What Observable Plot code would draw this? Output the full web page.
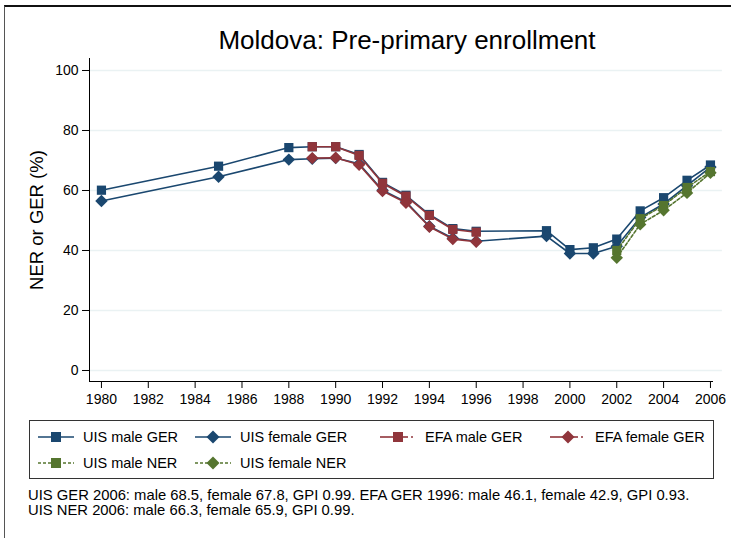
<!DOCTYPE html>
<html>
<head>
<meta charset="utf-8">
<script src="https://cdn.jsdelivr.net/npm/d3@7"></script>
<script src="https://cdn.jsdelivr.net/npm/@observablehq/plot@0.6"></script>
<style>
  html, body { margin: 0; padding: 0; background: #fff; }
  body { font-family: "Liberation Sans", Arial, Helvetica, sans-serif; color: #000; }
  #wrap { position: relative; width: 731px; height: 538px; overflow: hidden; background: #fff; }
  #frame { position: absolute; left: 4px; top: 5px; right: -2px; bottom: -2px; border-top: 2px solid #111; border-left: 1px solid #555; }
  #title { position: absolute; top: 25px; left: 407px; transform: translateX(-50%); white-space: nowrap; font-size: 26px; }
  #ylabel { position: absolute; left: 37px; top: 220px; transform: translate(-50%, -50%) rotate(-90deg); white-space: nowrap; font-size: 18.5px; }
  #chart { position: absolute; left: 0; top: 0; }
  #legend { position: absolute; left: 29px; top: 420px; width: 685px; height: 59px; border: 1px solid #333; box-sizing: border-box; font-size: 14.5px; }
  .item { position: absolute; display: flex; align-items: center; white-space: nowrap; }
  .item svg { margin-right: 9px; }
  #notes { position: absolute; left: 28px; top: 488px; font-size: 14.8px; line-height: 15px; white-space: nowrap; }
</style>
</head>
<body>
<div id="wrap">
  <div id="frame"></div>
  <div id="chart"></div>
  <div id="title">Moldova: Pre-primary enrollment</div>
  <div id="ylabel">NER or GER (%)</div>
  <div id="legend"></div>
  <div id="notes"></div>
</div>
<script>
// ---- data ----
const uisYears = [1980, 1985, 1988, 1989, 1990, 1991, 1992, 1993, 1994, 1995, 1996, 1999, 2000, 2001, 2002, 2003, 2004, 2005, 2006];
const uisMaleGER = [60.1, 68.1, 74.3, 74.6, 74.6, 72.0, 62.7, 58.4, 52.0, 47.3, 46.4, 46.6, 40.3, 40.9, 43.8, 53.2, 57.6, 63.4, 68.5];
const uisFemaleGER = [56.5, 64.6, 70.3, 70.6, 70.8, 68.9, 60.1, 56.2, 48.1, 44.1, 43.1, 44.8, 39.0, 39.0, 41.4, 51.0, 55.5, 61.6, 67.8];
const efaYears = [1989, 1990, 1991, 1992, 1993, 1994, 1995, 1996];
const efaMaleGER = [74.6, 74.6, 71.7, 62.4, 58.1, 51.7, 47.0, 46.1];
const efaFemaleGER = [70.8, 70.9, 68.6, 59.8, 55.9, 47.9, 43.8, 42.9];
const nerYears = [2002, 2003, 2004, 2005, 2006];
const uisMaleNER = [40.0, 50.6, 55.0, 61.0, 66.3];
const uisFemaleNER = [37.6, 48.7, 53.4, 59.2, 65.9];

const xTicks = d3.range(1980, 2007, 2);
const yTicks = [0, 20, 40, 60, 80, 100];
const legendLabels = ["UIS male GER", "UIS female GER", "EFA male GER", "EFA female GER", "UIS male NER", "UIS female NER"];
const notes = [
  "UIS GER 2006: male 68.5, female 67.8, GPI 0.99. EFA GER 1996: male 46.1, female 42.9, GPI 0.93.",
  "UIS NER 2006: male 66.3, female 65.9, GPI 0.99."
];

// ---- styles ----
const NAVY = "#1a476f", MAROON = "#90353b", GREEN = "#55752f";
const series = [
  {label: legendLabels[0], years: uisYears, values: uisMaleGER, color: NAVY, symbol: "square", dash: null},
  {label: legendLabels[1], years: uisYears, values: uisFemaleGER, color: NAVY, symbol: "diamond2", dash: null},
  {label: legendLabels[2], years: efaYears, values: efaMaleGER, color: MAROON, symbol: "square", dash: null},
  {label: legendLabels[3], years: efaYears, values: efaFemaleGER, color: MAROON, symbol: "diamond2", dash: null},
  {label: legendLabels[4], years: nerYears, values: uisMaleNER, color: GREEN, symbol: "square", dash: "3,2"},
  {label: legendLabels[5], years: nerYears, values: uisFemaleNER, color: GREEN, symbol: "diamond2", dash: "3,2"}
];

const xDomain = [1979.49, 2006.13];
const yDomain = [-3.67, 104];
const gridEnd = 2006.51;

const marks = [];
// gridlines
marks.push(Plot.ruleY(yTicks, {x1: xDomain[0], x2: gridEnd, stroke: "#eaf2f3", strokeWidth: 1.5}));
// axis lines
marks.push(Plot.ruleX([xDomain[0]], {y1: yDomain[0], y2: yDomain[1], stroke: "#000", strokeWidth: 1}));
marks.push(Plot.ruleY([yDomain[0]], {x1: xDomain[0], x2: xDomain[1], stroke: "#000", strokeWidth: 1}));
marks.push(Plot.axisY({ticks: yTicks, tickSize: 7, tickPadding: 4, fontSize: 14, label: null, color: "#000"}));
marks.push(Plot.axisX({ticks: xTicks, tickSize: 7, tickPadding: 6, fontSize: 14, label: null, tickFormat: d => String(d), color: "#000"}));

for (const s of series) {
  const data = s.years.map((y, i) => ({year: y, value: s.values[i]}));
  marks.push(Plot.line(data, {x: "year", y: "value", stroke: s.color, strokeWidth: 1.6, strokeDasharray: s.dash}));
  marks.push(Plot.dot(data, {x: "year", y: "value", symbol: s.symbol, fill: s.color, stroke: "none", r: s.symbol === "square" ? 5.2 : 5.6}));
}

const chart = Plot.plot({
  width: 731,
  height: 415,
  marginLeft: 89,
  marginRight: 18,
  marginTop: 58,
  marginBottom: 34,
  style: {fontFamily: "'Liberation Sans', Arial, sans-serif", background: "transparent", overflow: "visible"},
  x: {domain: xDomain},
  y: {domain: yDomain},
  marks
});
document.getElementById("chart").appendChild(chart);

// ---- legend ----
const positions = [
  [8, 17], [165, 17], [350, 17], [520, 17],
  [8, 43], [165, 43]
];
const leg = document.getElementById("legend");
series.forEach((s, i) => {
  const div = document.createElement("div");
  div.className = "item";
  div.style.left = positions[i][0] + "px";
  div.style.top = (positions[i][1] - 9) + "px";
  const sym = s.symbol === "square"
    ? `<rect x="13" y="2" width="10" height="10" fill="${s.color}"/>`
    : `<path d="M18,0.5 L24.5,7 L18,13.5 L11.5,7 Z" fill="${s.color}"/>`;
  let line;
  if (s.color === MAROON) {
    line = `<line x1="0" y1="7" x2="28" y2="7" stroke="${s.color}" stroke-width="1.6"/><line x1="31" y1="7" x2="33" y2="7" stroke="${s.color}" stroke-width="1.6"/>`;
  } else if (s.dash) {
    line = `<line x1="0" y1="7" x2="36" y2="7" stroke="${s.color}" stroke-width="1.6" stroke-dasharray="${s.dash}"/>`;
  } else {
    line = `<line x1="0" y1="7" x2="36" y2="7" stroke="${s.color}" stroke-width="1.6"/>`;
  }
  div.innerHTML = `<svg width="36" height="14">${line}${sym}</svg><span>${s.label}</span>`;
  leg.appendChild(div);
});

document.getElementById("notes").innerHTML = notes.map(n => `<div>${n}</div>`).join("");
</script>
</body>
</html>
